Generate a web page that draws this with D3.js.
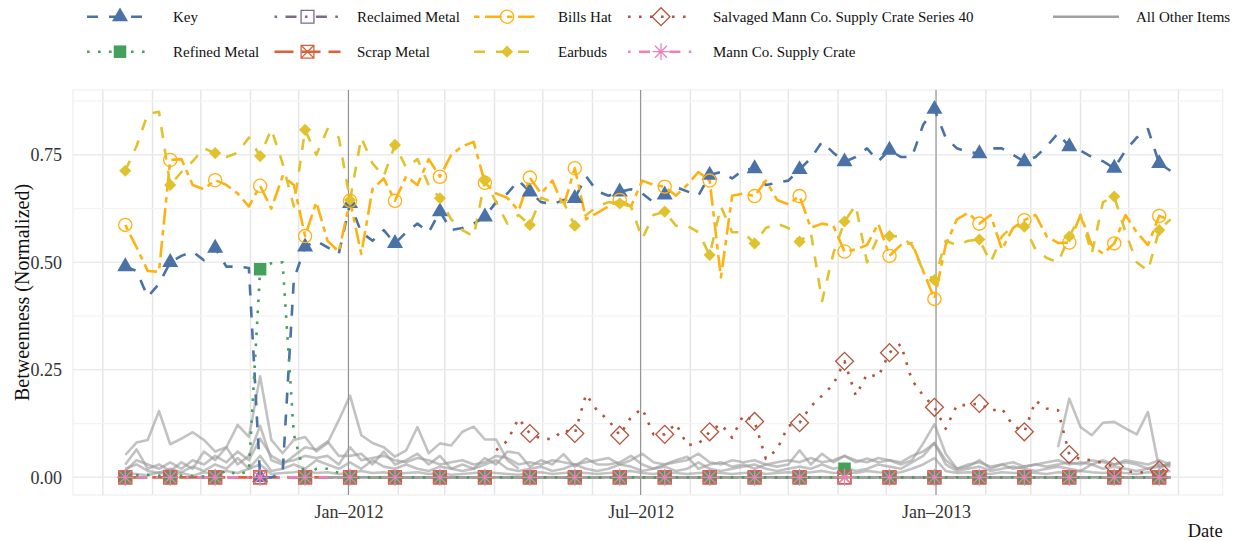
<!DOCTYPE html>
<html>
<head>
<meta charset="utf-8">
<script src="https://cdn.jsdelivr.net/npm/d3@7"></script>
<style>
  body { margin: 0; background: #fff; }
  svg { display: block; font-family: "Liberation Serif", "Times New Roman", serif; }
</style>
</head>
<body>
<div id="chart"></div>
<script>
// weekly observations, first and last Monday
var firstWeek = "2011-08-15";
var lastWeek = "2013-05-27";

var xTickDates = ["2012-01-01", "2012-07-01", "2013-01-01"];
var xTickLabels = ["Jan\u20132012", "Jul\u20132012", "Jan\u20132013"];
var yTicks = [0, 0.25, 0.5, 0.75];
var yMinor = [0.125, 0.375, 0.625, 0.875];

var key = [
  0.49,0.48,0.42,0.45,0.50,0.515,0.525,0.505,0.533,0.49,0.49,0.487,0.0,0.0,0.01,0.46,0.536,0.55,0.535,0.52,
  0.637,0.57,0.55,0.575,0.544,0.57,0.59,0.57,0.618,0.575,0.58,0.59,0.606,0.64,0.66,0.69,0.664,0.64,0.635,0.645,
  0.649,0.70,0.665,0.655,0.664,0.67,0.66,0.64,0.657,0.675,0.665,0.655,0.703,0.71,0.695,0.715,0.718,0.68,0.685,0.69,
  0.716,0.742,0.78,0.755,0.734,0.745,0.765,0.735,0.761,0.745,0.745,0.82,0.856,0.79,0.765,0.757,0.753,0.765,0.765,0.75,
  0.734,0.745,0.77,0.80,0.769,0.76,0.745,0.735,0.719,0.76,0.79,0.81,0.73,0.713];

var refinedMetal = [
  0,0.005,0.006,0.004,0,0.004,0.003,0.002,0,0.017,0.006,0.015,0.484,0.498,0.50,0.10,0,0.02,0.02,0.01,
  0,0,0,0,0,0,0,0,0,0,0,0,0,0,0,0,0,0,0,0,
  0,0,0,0,0,0,0,0,0,0,0,0,0,0,0,0,0,0,0,0,
  0,0,0,0,0.02,0,0,0,0,0,0,0,0,0,0,0,0,0,0,0,
  0,0,0,0,0,0,0,0,0,0,0,0,0,0];

var reclaimedMetal = [
  0,0,0,0,0,0,0,0,0,0,0,0,0,0,0,0,0,0,0,0,
  0,0,0,0,0,0,0,0,0,0,0,0,0,0,0,0,0,0,0,0,
  0,0,0,0,0,0,0,0,0,0,0,0,0,0,0,0,0,0,0,0,
  0,0,0,0,0,0,0,0,0,0,0,0,0,0,0,0,0,0,0,0,
  0,0,0,0,0,0,0,0,0,0,0,0,0,0];

var scrapMetal = [
  0,0,0,0,0,0,0,0,0,0,0,0,0,0,0,0,0,0,0,0,
  0,0,0,0,0,0,0,0,0,0,0,0,0,0,0,0,0,0,0,0,
  0,0,0,0,0,0,0,0,0,0,0,0,0,0,0,0,0,0,0,0,
  0,0,0,0,0,0,0,0,0,0,0,0,0,0,0,0,0,0,0,0,
  0,0,0,0,0,0,0,0,0,0,0,0,0,0];

var billsHat = [
  0.587,0.535,0.48,0.478,0.738,0.74,0.68,0.67,0.691,0.68,0.66,0.63,0.678,0.625,0.70,0.68,0.561,0.64,0.55,0.525,
  0.643,0.52,0.67,0.695,0.643,0.70,0.68,0.74,0.699,0.75,0.77,0.78,0.685,0.66,0.65,0.62,0.697,0.66,0.69,0.63,
  0.719,0.60,0.615,0.63,0.645,0.63,0.69,0.68,0.676,0.655,0.68,0.71,0.69,0.465,0.655,0.66,0.654,0.69,0.645,0.635,
  0.654,0.58,0.59,0.585,0.525,0.53,0.54,0.59,0.515,0.54,0.545,0.48,0.415,0.54,0.60,0.615,0.59,0.61,0.53,0.58,
  0.598,0.61,0.56,0.545,0.546,0.61,0.54,0.52,0.544,0.61,0.57,0.54,0.608,0.598];

var earbuds = [
  0.713,0.77,0.845,0.85,0.68,0.71,0.735,0.765,0.754,0.745,0.755,0.79,0.747,0.81,0.73,0.63,0.808,0.75,0.81,0.79,
  0.645,0.79,0.73,0.70,0.773,0.72,0.74,0.68,0.649,0.60,0.575,0.56,0.69,0.64,0.59,0.61,0.587,0.65,0.64,0.64,
  0.585,0.61,0.63,0.64,0.637,0.63,0.555,0.61,0.618,0.585,0.585,0.57,0.517,0.63,0.57,0.57,0.544,0.58,0.59,0.58,
  0.548,0.57,0.41,0.52,0.595,0.633,0.50,0.56,0.561,0.56,0.54,0.48,0.459,0.55,0.54,0.55,0.553,0.50,0.56,0.585,
  0.583,0.53,0.51,0.50,0.56,0.61,0.52,0.64,0.653,0.57,0.50,0.48,0.575,0.60];

// crate series begins at week 33
var salvagedFrom = 33;
var salvagedCrate = [
  0.063,0.085,0.137,0.102,0.09,0.089,0.11,0.102,0.193,0.155,0.133,0.098,0.14,0.16,0.10,0.10,0.125,0.075,0.078,0.106,
  0.124,0.092,0.145,0.13,0.043,0.065,0.12,0.127,0.165,0.19,0.216,0.27,0.19,0.24,0.234,0.29,0.31,0.226,0.19,0.163,
  0.113,0.168,0.168,0.172,0.155,0.16,0.12,0.106,0.178,0.16,0.156,0.053,0.042,0.04,0.033,0.025,0.013,0.013,0.01,0.017,
  0.017];

var mannCrate = [
  0,0,0,0,0,0,0,0,0,0,0,0,0,0,0,0,0,0,0,0,
  0,0,0,0,0,0,0,0,0,0,0,0,0,0,0,0,0,0,0,0,
  0,0,0,0,0,0,0,0,0,0,0,0,0,0,0,0,0,0,0,0,
  0,0,0,0,0,0,0,0,0,0,0,0,0,0,0,0,0,0,0,0,
  0,0,0,0,0,0,0,0,0,0,0,0,0,0];

// "All Other Items" - a handful of representative grey traces
var otherA = [
  0.052,0.081,0.087,0.154,0.077,0.09,0.105,0.087,0.06,0.07,0.122,0.094,0.235,0.087,0.056,0.087,0.094,0.06,0.08,0.133,
  0.19,0.098,0.08,0.07,0.048,0.063,0.117,0.056,0.079,0.074,0.106,0.118,0.088,0.088,0.04,0.02];

var otherB = [
  0.03,0.065,0.02,0.03,0.015,0.035,0.02,0.06,0.04,0.07,0.03,0.05,0.12,0.04,0.03,0.05,0.07,0.065,0.083,0.05,
  0.05,0.055,0.03,0.06,0.03,0.04,0.055,0.03,0.05,0.02,0.03,0.02,0.045,0.03,0.06,0.056,0.025,0.04,0.03,0.054,
  0.025,0.044,0.03,0.03,0.035,0.05,0.03,0.02,0.03,0.04,0.048,0.02,0.03,0.035,0.025,0.03,0.02,0.03,0.025,0.03,
  0.063,0.03,0.055,0.035,0.05,0.035,0.044,0.035,0.04,0.03,0.04,0.079,0.124,0.055,0.02,0.025,0.04,0.02,0.03,0.02,
  0.025,0.03,0.035,0.04,0.03,0.035,0.03,0.04,0.03,0.035,0.03,0.02,0.03,0.025];

var otherC = [
  0.02,0.03,0.015,0.01,0.02,0.012,0.025,0.015,0.03,0.02,0.045,0.02,0.05,0.015,0.02,0.03,0.02,0.04,0.03,0.02,
  0.035,0.02,0.04,0.025,0.02,0.03,0.02,0.015,0.025,0.02,0.015,0.02,0.03,0.04,0.02,0.015,0.02,0.025,0.015,0.02,
  0.03,0.02,0.015,0.02,0.03,0.025,0.015,0.02,0.025,0.015,0.02,0.035,0.02,0.015,0.02,0.025,0.03,0.02,0.015,0.02,
  0.025,0.02,0.03,0.02,0.025,0.015,0.02,0.03,0.025,0.02,0.035,0.05,0.08,0.03,0.015,0.02,0.025,0.015,0.02,0.025,
  0.02,0.015,0.02,0.025,0.02,0.015,0.03,0.02,0.025,0.02,0.015,0.02,0.025,0.03];

var otherD = [
  0.01,0.008,0.005,0.012,0.006,0.01,0.004,0.012,0.008,0.015,0.01,0.02,0.03,0.008,0.01,0.012,0.015,0.01,0.012,0.008,
  0.01,0.015,0.01,0.012,0.008,0.01,0.012,0.008,0.01,0.006,0.008,0.01,0.012,0.01,0.008,0.006,0.01,0.012,0.008,0.01,
  0.012,0.01,0.008,0.01,0.012,0.015,0.01,0.008,0.012,0.01,0.008,0.01,0.012,0.01,0.008,0.01,0.012,0.008,0.01,0.012,
  0.01,0.012,0.015,0.01,0.012,0.01,0.015,0.012,0.01,0.012,0.02,0.03,0.045,0.015,0.01,0.012,0.01,0.008,0.012,0.01,
  0.012,0.01,0.008,0.012,0.01,0.015,0.012,0.01,0.012,0.01,0.008,0.012,0.01,0.015];

var otherE = [
  0.015,0.04,0.03,0.02,0.035,0.02,0.04,0.03,0.05,0.035,0.06,0.04,0.09,0.05,0.035,0.04,0.05,0.045,0.05,0.03,
  0.07,0.04,0.045,0.05,0.04,0.035,0.045,0.04,0.03,0.035,0.04,0.03,0.035,0.05,0.045,0.03,0.035,0.03,0.04,0.035,
  0.03,0.035,0.04,0.045,0.03,0.04,0.055,0.035,0.03,0.035,0.04,0.055,0.035,0.03,0.04,0.035,0.04,0.03,0.035,0.04,
  0.035,0.045,0.035,0.04,0.05,0.04,0.035,0.045,0.04,0.035,0.05,0.06,0.08,0.04,0.02,0.03,0.035,0.025,0.03,0.035,
  0.025,0.03,0.025,0.03,0.035,0.03,0.04,0.035,0.03,0.04,0.035,0.03,0.04,0.03];

var otherLateFrom = 83;
var otherLate = [0.07,0.183,0.117,0.098,0.127,0.129,0.114,0.10,0.152,0.02,0.036];

var otherZeroFrom = 18;
var otherZero = [
  0,0,0,0,0,0,0,0,0,0,0,0,0,0,0,0,0,0,0,0,
  0,0,0,0,0,0,0,0,0,0,0,0,0,0,0,0,0,0,0,0,
  0,0,0,0,0,0,0,0,0,0,0,0,0,0,0,0,0,0,0,0,
  0,0,0,0,0,0,0,0,0,0,0,0,0,0,0,0];

//////// layout
var W = 1233, H = 541;
var pLeft = 73, pRight = 1222.7, pTop = 90, pBottom = 495;
var lw = 2.6;

var parse = d3.utcParse("%Y-%m-%d");
var weeks = d3.utcMonday.range(parse(firstWeek), d3.utcDay.offset(parse(lastWeek), 1));

var span = weeks[weeks.length - 1] - weeks[0];
var x = d3.scaleUtc()
  .domain([new Date(+weeks[0] - span * 0.05), new Date(+weeks[weeks.length - 1] + span * 0.05)])
  .range([pLeft, pRight]);
var y = d3.scaleLinear().domain([-0.041, 0.9007]).range([pBottom, pTop]);

var svg = d3.select("#chart").append("svg")
  .attr("width", W)
  .attr("height", H);

// grid
var grid = svg.append("g");
grid.selectAll(".vgrid")
  .data(d3.utcMonth.range(x.domain()[0], x.domain()[1]))
  .enter().append("line")
  .attr("x1", function(d) { return x(d); }).attr("x2", function(d) { return x(d); })
  .attr("y1", pTop).attr("y2", pBottom)
  .attr("stroke", "#e6e6e6").attr("stroke-width", 1.5);
grid.selectAll(".hminor")
  .data(yMinor)
  .enter().append("line")
  .attr("x1", pLeft).attr("x2", pRight)
  .attr("y1", function(d) { return y(d); }).attr("y2", function(d) { return y(d); })
  .attr("stroke", "#f3f3f3").attr("stroke-width", 1.2);
grid.selectAll(".hmajor")
  .data(yTicks)
  .enter().append("line")
  .attr("x1", pLeft).attr("x2", pRight)
  .attr("y1", function(d) { return y(d); }).attr("y2", function(d) { return y(d); })
  .attr("stroke", "#ebebeb").attr("stroke-width", 1.5);
grid.append("rect")
  .attr("x", pLeft).attr("y", pTop)
  .attr("width", pRight - pLeft).attr("height", pBottom - pTop)
  .attr("fill", "none").attr("stroke", "#ebebeb").attr("stroke-width", 1);
grid.selectAll(".vmark")
  .data(xTickDates.map(parse))
  .enter().append("line")
  .attr("x1", function(d) { return x(d); }).attr("x2", function(d) { return x(d); })
  .attr("y1", pTop).attr("y2", pBottom)
  .attr("stroke", "#8a8a8a").attr("stroke-width", 1);

// axes
var yAxis = svg.append("g")
  .attr("transform", "translate(" + pLeft + ",0)")
  .call(d3.axisLeft(y).tickValues(yTicks).tickFormat(d3.format(".2f")).tickSize(0).tickPadding(11));
var xAxis = svg.append("g")
  .attr("transform", "translate(0," + pBottom + ")")
  .call(d3.axisBottom(x).tickValues(xTickDates.map(parse))
    .tickFormat(function(d, i) { return xTickLabels[i]; }).tickSize(0).tickPadding(10));
[xAxis, yAxis].forEach(function(a) {
  a.select(".domain").remove();
  a.selectAll("text")
    .attr("font-family", "Liberation Serif, Times New Roman, serif")
    .attr("font-size", 18)
    .attr("fill", "#333");
});

svg.append("text")
  .attr("x", pRight).attr("y", 537)
  .attr("text-anchor", "end")
  .attr("font-size", 18.5).attr("fill", "#111")
  .text("Date");
svg.append("text")
  .attr("transform", "translate(29," + ((pTop + pBottom) / 2) + ") rotate(-90)")
  .attr("text-anchor", "middle")
  .attr("font-size", 20).attr("fill", "#111")
  .text("Betweenness (Normalized)");

//////// series
function toPoints(values, from) {
  return values.map(function(v, j) { return { i: from + j, date: weeks[from + j], v: v }; });
}

var line = d3.line()
  .defined(function(d) { return d.v != null; })
  .x(function(d) { return x(d.date); })
  .y(function(d) { return y(d.v); });

var dashes = {
  dashed: "11,11",
  dotted: "2.6,8.4",
  dotdash: "2.6,8.4,11,8.4",
  longdash: "19,8",
  twodash: "5.5,5.5,16.5,5.5",
  solid: null
};

var series = [
  { name: "Key", pts: toPoints(key, 0), color: "#4a72a6", dash: "dashed", shape: "triangle" },
  { name: "Refined Metal", pts: toPoints(refinedMetal, 0), color: "#45a05c", dash: "dotted", shape: "squareFilled" },
  { name: "Reclaimed Metal", pts: toPoints(reclaimedMetal, 0), color: "#7c6a8e", dash: "dotdash", shape: "squareOpen" },
  { name: "Scrap Metal", pts: toPoints(scrapMetal, 0), color: "#d8613a", dash: "longdash", shape: "squareCross" },
  { name: "Bills Hat", pts: toPoints(billsHat, 0), color: "#ffb20f", dash: "twodash", shape: "circle" },
  { name: "Earbuds", pts: toPoints(earbuds, 0), color: "#e0c22e", dash: "dashed", shape: "diamondFilled" },
  { name: "Salvaged Mann Co. Supply Crate Series 40", pts: toPoints(salvagedCrate, salvagedFrom), color: "#b5533c", dash: "dotted", shape: "diamondOpen" },
  { name: "Mann Co. Supply Crate", pts: toPoints(mannCrate, 0), color: "#ea82bf", dash: "dotdash", shape: "asterisk" }
];

var others = [
  toPoints(otherA, 0), toPoints(otherB, 0), toPoints(otherC, 0), toPoints(otherD, 0),
  toPoints(otherE, 0), toPoints(otherLate, otherLateFrom)
];

function drawLine(g, pts, color, dash, width, opacity) {
  g.append("path")
    .datum(pts)
    .attr("d", line)
    .attr("fill", "none")
    .attr("stroke", color)
    .attr("stroke-width", width)
    .attr("stroke-opacity", opacity == null ? 1 : opacity)
    .attr("stroke-linejoin", "round")
    .attr("stroke-dasharray", dashes[dash]);
}

function shapePath(shape) {
  switch (shape) {
    case "triangle": return d3.symbol(d3.symbolTriangle, 112)();
    case "circle": return d3.symbol(d3.symbolCircle, 137)();
    case "squareFilled": return d3.symbol(d3.symbolSquare, 156)();
    case "squareOpen": return d3.symbol(d3.symbolSquare, 165)();
    case "squareCross": return "M-6.4,-6.4H6.4V6.4H-6.4Z M-6.4,-6.4L6.4,6.4 M6.4,-6.4L-6.4,6.4";
    case "diamondFilled": return d3.symbol(d3.symbolSquare, 74)();
    case "diamondOpen": return d3.symbol(d3.symbolSquare, 160)();
    case "asterisk": return "M-8.5,0H8.5 M0,-8.5V8.5 M-6,-6L6,6 M6,-6L-6,6";
  }
}
function isFilled(shape) {
  return shape === "triangle" || shape === "squareFilled" || shape === "diamondFilled";
}
function drawShape(g, shape, color, cx, cy) {
  var rot = (shape === "diamondFilled" || shape === "diamondOpen") ? " rotate(45)" : "";
  g.append("path")
    .attr("d", shapePath(shape))
    .attr("transform", "translate(" + cx + "," + cy + ")" + rot)
    .attr("fill", isFilled(shape) ? color : "none")
    .attr("stroke", isFilled(shape) ? "none" : color)
    .attr("stroke-width", 1.3);
}

var plot = svg.append("g");
function byName(n) { return series.filter(function(s) { return s.name === n; })[0]; }

// zero-valued items underneath the grey cloud
["Reclaimed Metal", "Scrap Metal", "Mann Co. Supply Crate"].forEach(function(n) {
  var s = byName(n);
  drawLine(plot, s.pts, s.color, s.dash, lw);
});
others.forEach(function(pts) { drawLine(plot, pts, "#999999", "solid", lw, 0.6); });
drawLine(plot, toPoints(otherZero, otherZeroFrom), "#a0a0a0", "solid", lw);

["Key", "Refined Metal", "Bills Hat", "Earbuds", "Salvaged Mann Co. Supply Crate Series 40"].forEach(function(n) {
  var s = byName(n);
  drawLine(plot, s.pts, s.color, s.dash, lw);
});

// markers every fourth week
var marks = svg.append("g");
series.forEach(function(s) {
  s.pts.filter(function(d) { return d.i % 4 === 0 && d.v != null; }).forEach(function(d) {
    drawShape(marks, s.shape, s.color, x(d.date), y(d.v));
  });
});

//////// legend
var legendCols = [
  { keyX: 120, textX: 173 },
  { keyX: 307.5, textX: 357 },
  { keyX: 507, textX: 558 },
  { keyX: 661, textX: 713 },
  { keyX: 1086, textX: 1136 }
];
var legendRows = [16.7, 51.7];
var legendItems = series.map(function(s) { return s; }).concat([{ name: "All Other Items", color: "#a0a0a0", dash: "solid", shape: null }]);

var legend = svg.append("g");
legendItems.forEach(function(s, k) {
  var col = legendCols[Math.floor(k / 2)], cy = legendRows[k % 2];
  legend.append("line")
    .attr("x1", col.keyX - 33).attr("x2", col.keyX + 33)
    .attr("y1", cy).attr("y2", cy)
    .attr("stroke", s.color).attr("stroke-width", lw)
    .attr("stroke-dasharray", dashes[s.dash]);
  if (s.shape) drawShape(legend, s.shape, s.color, col.keyX, cy);
  legend.append("text")
    .attr("x", col.textX).attr("y", cy)
    .attr("dy", "0.33em")
    .attr("font-size", 15).attr("fill", "#111")
    .text(s.name);
});
</script>
</body>
</html>
